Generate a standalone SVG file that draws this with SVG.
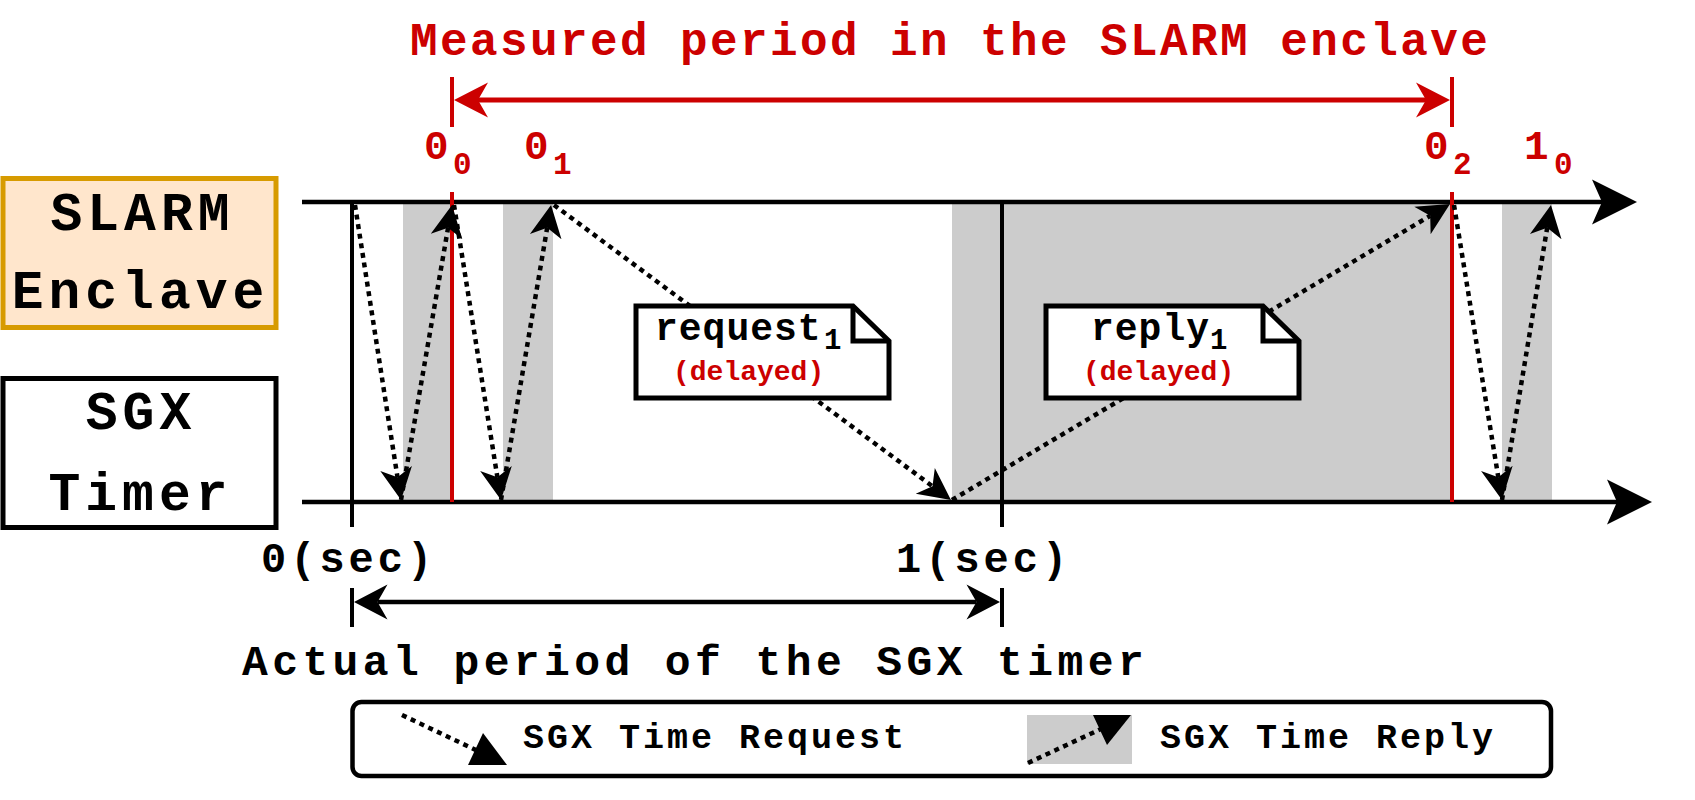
<svg xmlns="http://www.w3.org/2000/svg" width="1695" height="800" viewBox="0 0 1695 800">
<style>
.t{font-family:"Liberation Mono","DejaVu Sans Mono",monospace;font-weight:bold;fill:#000}
.red{fill:#CC0000}
.title{font-size:46px;letter-spacing:2.4px}
.node{font-size:53px;letter-spacing:5px;text-anchor:middle}
.lab{font-size:41px}
.labsub{font-size:31px}
.sec{font-size:42px;letter-spacing:4px}
.actual{font-size:43px;letter-spacing:4.4px}
.note{font-size:38px;letter-spacing:1px}
.notesub{font-size:29px}
.del{font-size:28px}
.leg{font-size:35px;letter-spacing:3px}
.axis{stroke:#000;stroke-width:4.5;fill:none}
.vline{stroke:#000;stroke-width:4;fill:none}
.rline{stroke:#CC0000;stroke-width:4;fill:none}
.dot{stroke:#000;stroke-width:4.5;stroke-dasharray:5 4.7;fill:none}
.shade{fill:#CCCCCC}
.box{stroke-width:5}
</style>
<defs>
<marker id="ah" markerUnits="userSpaceOnUse" orient="auto" refX="9" refY="0" markerWidth="40" markerHeight="40" overflow="visible">
<path d="M0,-16 L32,0 L0,16 L9,0 Z" fill="#000"/>
</marker>
<marker id="axh" markerUnits="userSpaceOnUse" orient="auto" refX="10" refY="0" markerWidth="50" markerHeight="50" overflow="visible">
<path d="M0,-22.5 L45,0 L0,22.5 L10,0 Z" fill="#000"/>
</marker>
<marker id="dimr" markerUnits="userSpaceOnUse" orient="auto-start-reverse" refX="10" refY="0" markerWidth="40" markerHeight="40" overflow="visible">
<path d="M0,-17.5 L34,0 L0,17.5 L10,0 Z" fill="#CC0000"/>
</marker>
<marker id="dimk" markerUnits="userSpaceOnUse" orient="auto-start-reverse" refX="10" refY="0" markerWidth="40" markerHeight="40" overflow="visible">
<path d="M0,-17.5 L33.5,0 L0,17.5 L10,0 Z" fill="#000"/>
</marker>
</defs>

<g id="shading">
<rect class="shade" x="403" y="202" width="49" height="300"/>
<rect class="shade" x="503" y="202" width="50" height="300"/>
<rect class="shade" x="952" y="202" width="500" height="300"/>
<rect class="shade" x="1502" y="202" width="50" height="300"/>
</g>

<g id="title">
<text class="t red title" x="410" y="55">Measured period in the SLARM enclave</text>
</g>

<g id="slarm-enclave">
<rect class="box" x="3" y="178.5" width="273" height="149" fill="#FFE6CC" stroke="#D79B00"/>
<text class="t node" x="142.5" y="230">SLARM</text>
<text class="t node" x="140.5" y="308">Enclave</text>
</g>

<g id="sgx-timer">
<rect class="box" x="3" y="378.5" width="273" height="149" fill="#FFFFFF" stroke="#000"/>
<text class="t node" x="141" y="429">SGX</text>
<text class="t node" x="140.5" y="510">Timer</text>
</g>

<g id="connectors">
<line class="axis" x1="302" y1="202" x2="1602" y2="202" marker-end="url(#axh)"/>
<line class="axis" x1="302" y1="502" x2="1617" y2="502" marker-end="url(#axh)"/>
<line class="vline" x1="352" y1="200" x2="352" y2="527"/>
<line class="vline" x1="1002" y1="200" x2="1002" y2="527"/>
<line class="rline" x1="452" y1="192" x2="452" y2="502"/>
<line class="rline" x1="1452" y1="192" x2="1452" y2="502"/>
<line class="rline" x1="452" y1="77" x2="452" y2="127" stroke-width="4.5"/>
<line class="rline" x1="1452" y1="77" x2="1452" y2="127" stroke-width="4.5"/>
<line x1="478" y1="100" x2="1426" y2="100" stroke="#CC0000" stroke-width="5" marker-start="url(#dimr)" marker-end="url(#dimr)"/>
<line class="vline" x1="352" y1="588" x2="352" y2="627" stroke-width="4.5"/>
<line class="vline" x1="1002" y1="588" x2="1002" y2="627" stroke-width="4.5"/>
<line x1="377.5" y1="602" x2="976.5" y2="602" stroke="#000" stroke-width="4.5" marker-start="url(#dimk)" marker-end="url(#dimk)"/>
<line class="dot" x1="355" y1="205" x2="397.5" y2="477.3" marker-end="url(#ah)"/>
<line class="dot" x1="401" y1="500" x2="448.1" y2="227.7" marker-end="url(#ah)"/>
<line class="dot" x1="454" y1="205" x2="497.4" y2="477.3" marker-end="url(#ah)"/>
<line class="dot" x1="501" y1="500" x2="547.2" y2="227.7" marker-end="url(#ah)"/>
<line class="dot" x1="554" y1="205" x2="932.5" y2="486.3" marker-end="url(#ah)"/>
<line class="dot" x1="952" y1="500" x2="1430.2" y2="215.8" marker-end="url(#ah)"/>
<line class="dot" x1="1454" y1="205" x2="1498.3" y2="477.3" marker-end="url(#ah)"/>
<line class="dot" x1="1502" y1="500" x2="1547.2" y2="227.7" marker-end="url(#ah)"/>
</g>

<g id="labels">
<text class="t red lab" x="424" y="159">0<tspan class="labsub" x="453" y="174">0</tspan></text>
<text class="t red lab" x="524" y="159">0<tspan class="labsub" x="553" y="174">1</tspan></text>
<text class="t red lab" x="1424" y="159">0<tspan class="labsub" x="1453" y="174">2</tspan></text>
<text class="t red lab" x="1524" y="159">1<tspan class="labsub" x="1554" y="174">0</tspan></text>
<text class="t sec" x="261" y="572">0(sec)</text>
<text class="t sec" x="896" y="572">1(sec)</text>
<text class="t actual" x="242" y="675">Actual period of the SGX timer</text>
</g>

<g id="request1-note">
<path d="M636,306 L853,306 L889,341 L889,398 L636,398 Z" fill="#FFFFFF" stroke="#000" stroke-width="5" stroke-linejoin="miter"/>
<path d="M853,306 L853,341 L889,341" fill="none" stroke="#000" stroke-width="5"/>
<text class="t note" x="655" y="340">request<tspan class="notesub" x="824" y="349" letter-spacing="0">1</tspan></text>
<text class="t red del" x="673" y="380">(delayed)</text>
</g>

<g id="reply1-note">
<path d="M1046,306 L1263,306 L1299,341 L1299,398 L1046,398 Z" fill="#FFFFFF" stroke="#000" stroke-width="5" stroke-linejoin="miter"/>
<path d="M1263,306 L1263,341 L1299,341" fill="none" stroke="#000" stroke-width="5"/>
<text class="t note" x="1091" y="340">reply<tspan class="notesub" x="1210" y="349" letter-spacing="0">1</tspan></text>
<text class="t red del" x="1083" y="380">(delayed)</text>
</g>

<g id="legend">
<rect x="352.5" y="702" width="1198.5" height="74" rx="9" ry="9" fill="#FFFFFF" stroke="#000" stroke-width="4.5"/>
<line class="dot" x1="402" y1="715" x2="480" y2="752"/>
<polygon points="483,733 507,765 468,765" fill="#000"/>
<text class="t leg" x="523" y="748">SGX Time Request</text>
<rect class="shade" x="1027" y="715" width="105" height="49"/>
<line class="dot" x1="1028" y1="763" x2="1103" y2="728"/>
<polygon points="1093,715 1131,715 1107,745" fill="#000"/>
<text class="t leg" x="1160" y="748">SGX Time Reply</text>
</g>
</svg>
